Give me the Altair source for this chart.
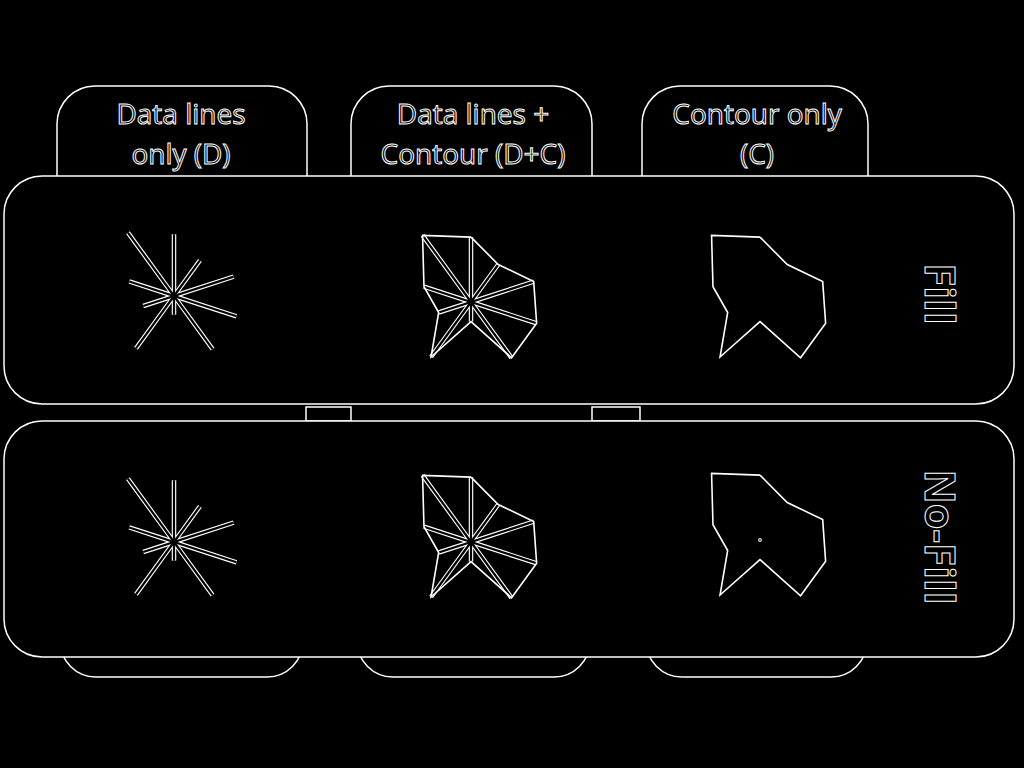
import altair as alt
import pandas as pd
import numpy as np

# ---- data -------------------------------------------------------------
ray_angles_deg = [90, 54, 18, -18, -54, -90, -126, -162, 162, 126]
ray_values = [63, 45, 64, 67, 67, 19, 66, 33, 48, 80]

col_titles = [["Data lines", "only (D)"],
              ["Data lines +", "Contour (D+C)"],
              ["Contour only", "(C)"]]
col_modes = ["D", "D+C", "C"]
row_labels = ["Fill", "No-Fill"]

# ---- layout ----------------------------------------------------------
W, H = 1024, 768
glyph_cx = [174, 471, 760]
glyph_cy = [[296, 302, 302], [542, 542, 540]]
glyph_scale = [0.98, 1.03, 1.03]

panels = pd.DataFrame({"x": [4, 4], "x2": [1014, 1014],
                       "y": [176, 421], "y2": [404, 657]})
top_tabs = pd.DataFrame({"x": [57, 351, 642], "x2": [307, 592, 868],
                         "y": [86, 86, 86], "y2": [230, 230, 230]})
bottom_tabs = pd.DataFrame({"x": [60, 357, 646], "x2": [303, 590, 867],
                            "y": [600, 600, 600], "y2": [677, 677, 677]})
connectors = pd.DataFrame({"x": [306, 592], "x2": [351, 640],
                           "y": [407, 407], "y2": [421, 421]})

tab_text_x = [181, 473, 757]
tab_text_y = [124, 164]
side_x = 925
side_y = [294, 537]

# ---- build tables ----------------------------------------------------
rays, contour, dots = [], [], []
for r in range(2):
    for c in range(3):
        cx, cy, s = glyph_cx[c], glyph_cy[r][c], glyph_scale[c]
        gid = f"{r}-{c}"
        pts = []
        for k, (a, v) in enumerate(zip(ray_angles_deg, ray_values)):
            t = np.deg2rad(a)
            ex = cx + v * s * np.cos(t)
            ey = cy - v * s * np.sin(t)
            pts.append((ex, ey))
            if "D" in col_modes[c]:
                rays.append({"g": gid, "x": cx, "y": cy, "ex": ex, "ey": ey})
        if "C" in col_modes[c]:
            for k, (ex, ey) in enumerate(pts + [pts[0]]):
                contour.append({"g": gid, "o": k, "x": ex, "y": ey})
        if col_modes[c] == "C" and row_labels[r] == "No-Fill":
            dots.append({"x": cx, "y": cy})
rays = pd.DataFrame(rays)
contour = pd.DataFrame(contour)
dots = pd.DataFrame(dots)

tab_text = pd.DataFrame([{"t": line, "x": tab_text_x[c], "y": tab_text_y[i]}
                         for c, lines in enumerate(col_titles)
                         for i, line in enumerate(lines)])
side_text = pd.DataFrame({"t": row_labels, "x": [side_x] * 2, "y": side_y})

# ---- scales ----------------------------------------------------------
xs = alt.Scale(domain=[0, W], nice=False, zero=False)
ys = alt.Scale(domain=[0, H], nice=False, zero=False, reverse=True)
X = lambda f: alt.X(f"{f}:Q", scale=xs, axis=None)
Y = lambda f: alt.Y(f"{f}:Q", scale=ys, axis=None)


def rect_layer(df, radius):
    kw = dict(fill="black", stroke="white", strokeWidth=1.5)
    if radius:
        kw["cornerRadius"] = radius
    return alt.Chart(df).mark_rect(**kw).encode(
        x=X("x"), x2="x2", y=Y("y"), y2="y2")


layers = [
    rect_layer(bottom_tabs, 36),
    rect_layer(top_tabs, 38),
    rect_layer(connectors, 0),
    rect_layer(panels, 38),
    alt.Chart(rays).mark_rule(stroke="white", strokeWidth=4.5, strokeCap="butt").encode(
        x=X("x"), y=Y("y"), x2="ex", y2="ey", detail="g:N"),
    alt.Chart(rays).mark_rule(stroke="black", strokeWidth=2.2, strokeCap="butt").encode(
        x=X("x"), y=Y("y"), x2="ex", y2="ey", detail="g:N"),
    alt.Chart(contour).mark_line(stroke="white", strokeWidth=1.6).encode(
        x=X("x"), y=Y("y"), order="o:Q", detail="g:N"),
    alt.Chart(dots).mark_point(shape="square", size=6, fill="black", stroke="white",
                               strokeWidth=1, opacity=1).encode(x=X("x"), y=Y("y")),
    alt.Chart(tab_text).mark_text(font="Open Sans", fontSize=28, fill="black",
                                  stroke="white", strokeWidth=1, align="center",
                                  baseline="alphabetic").encode(
        x=X("x"), y=Y("y"), text="t:N"),
    alt.Chart(side_text).mark_text(font="Open Sans", fontSize=42, fontWeight="bold",
                                   fill="black", stroke="white", strokeWidth=1,
                                   align="center", baseline="alphabetic", angle=90).encode(
        x=X("x"), y=Y("y"), text="t:N"),
]

chart = alt.layer(*layers).properties(
    width=W, height=H, background="black", padding=0,
    autosize=alt.AutoSizeParams(type="none"),
).configure_view(stroke=None)

chart.save("out.html", embed_options={"renderer": "svg", "actions": False})
